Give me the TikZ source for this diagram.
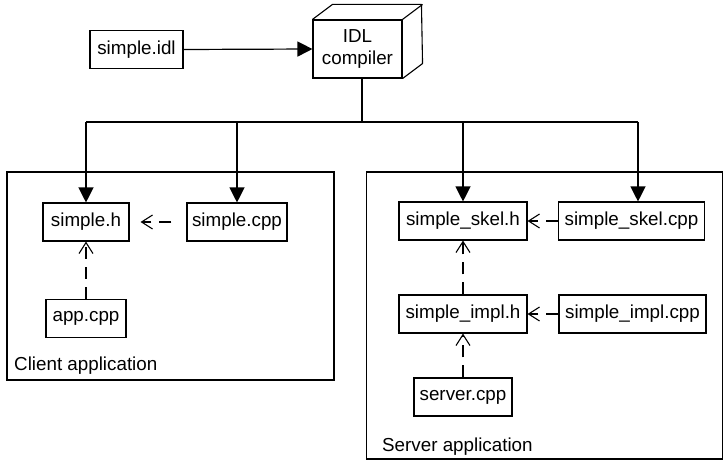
\documentclass[tikz,border=0pt]{standalone}
\usepackage{fontspec}
\setmainfont{Liberation Sans}
\usetikzlibrary{arrows.meta,positioning,calc}
\tikzset{
  file/.style={draw=black, line width=1.1pt, align=center, fill=white, inner sep=3pt, minimum height=38pt},
  group/.style={draw=black, line width=1.1pt, inner sep=0pt},
  grouplabel/.style={anchor=west, inner sep=0pt},
  arrow/.style={-{Triangle[length=15pt,width=15pt]}, line width=1.2pt},
  include/.style={-{Straight Barb[length=11pt,width=14pt]}, line width=1.1pt, dash pattern=on 12pt off 8pt},
  bus/.style={line width=1.2pt}
}
\begin{document}
\begin{tikzpicture}[x=1pt, y=-1pt, font=\fontsize{18.8}{22}\selectfont]
  \useasboundingbox (0,0) rectangle (724,460);

  % the two applications
  \node[group, minimum width=327pt, minimum height=208pt] (client) at (170.5,276) {};
  \node[group, minimum width=356pt, minimum height=287pt] (server) at (544.5,315.5) {};
  \node[grouplabel] (clientlabel) at (14,366) {Client application};
  \node[grouplabel] (serverlabel) at (382,446.5) {Server application};

  % compiler input
  \node[file, minimum width=93pt] (idl) at (136.5,49.5) {simple.idl};
  \node[file, minimum width=89pt, minimum height=58pt] (idlc) at (357.5,49) {IDL\\compiler};
  \draw[line width=1.1pt, line join=round] (idlc.north west) -- ++(20,-15) -- ++(89,0)
    -- ($(idlc.south east)+(20,-15)$) -- (idlc.south east);
  \draw[line width=1.1pt] (idlc.north east) -- ++(20,-15);
  \draw[arrow] (idl.east) -- (idlc.west);

  % generated and user files
  \node[file, minimum width=86pt] (simpleh) at (86,222) {simple.h};
  \node[file, minimum width=100pt] (simplecpp) at (237,222) {simple.cpp};
  \node[file, minimum width=80pt] (appcpp) at (86,318.5) {app.cpp};
  \node[file, minimum width=128pt] (skelh) at (463,221) {simple\_skel.h};
  \node[file, minimum width=146pt] (skelcpp) at (631.5,221) {simple\_skel.cpp};
  \node[file, minimum width=128pt] (implh) at (463,314) {simple\_impl.h};
  \node[file, minimum width=147pt] (implcpp) at (632.5,314) {simple\_impl.cpp};
  \node[file, minimum width=98pt] (servercpp) at (463,397) {server.cpp};

  % compiler output
  \coordinate (junction) at (362,122);
  \coordinate (skeltap) at ($(skelcpp.north)+(6.5,0)$);
  \draw[bus] (idlc.south -| junction) -- (junction);
  \draw[bus] (junction -| simpleh) -- (junction -| skeltap);
  \foreach \n in {simpleh,simplecpp,skelh}
    \draw[arrow] (junction -| \n) -- (\n.north);
  \draw[arrow] (junction -| skeltap) -- (skeltap);

  % includes
  \draw[include, shorten >=11pt, shorten <=15pt] (simplecpp.west) -- (simpleh.east);
  \draw[include] (appcpp.north) -- (simpleh.south);
  \draw[include] (skelcpp.west) -- (skelh.east);
  \draw[include] (implcpp.west) -- (implh.east);
  \draw[include] (implh.north) -- (skelh.south);
  \draw[include] (servercpp.north) -- (implh.south);
\end{tikzpicture}
\end{document}
